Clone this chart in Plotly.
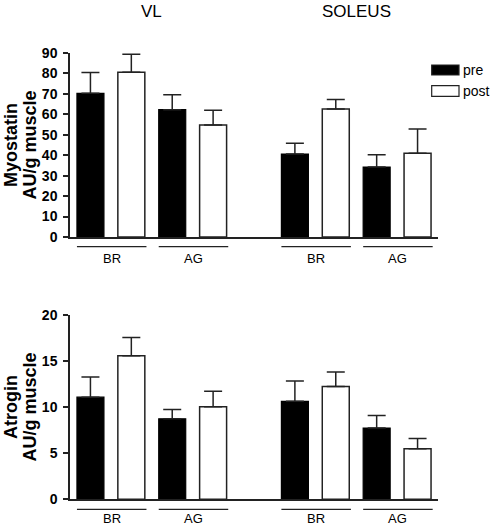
import plotly.graph_objects as go

# ---- data ----
muscles = ["VL", "SOLEUS"]
groups = ["BR", "AG"]
series = ["pre", "post"]

# order: VL-BR, VL-AG, SOLEUS-BR, SOLEUS-AG
myostatin_pre = [70.3, 62.3, 40.6, 34.2]
myostatin_pre_err = [10.2, 7.3, 5.2, 6.0]
myostatin_post = [80.6, 54.8, 62.6, 41.0]
myostatin_post_err = [8.8, 7.2, 4.6, 11.8]

atrogin_pre = [11.1, 8.75, 10.65, 7.75]
atrogin_pre_err = [2.2, 1.0, 2.2, 1.35]
atrogin_post = [15.6, 10.05, 12.25, 5.5]
atrogin_post_err = [2.0, 1.7, 1.6, 1.1]

myostatin_ticks = [0, 10, 20, 30, 40, 50, 60, 70, 80, 90]
atrogin_ticks = [0, 5, 10, 15, 20]

# ---- positions (slot indices) ----
pre_x, post_x, group_labels = [], [], []
for m in range(len(muscles)):
    for w in range(len(groups)):
        p = m * 5 + w * 2
        pre_x.append(p)
        post_x.append(p + 1)
        group_labels.append(groups[w])

BW = 0.66
LINE = "#222222"
FONT = "Liberation Sans, Arial, sans-serif"

fig = go.Figure()

def add_panel(pre, pre_err, post, post_err, xa, ya):
    fig.add_trace(go.Bar(
        x=pre_x, y=pre, width=BW, name="pre", showlegend=False,
        marker=dict(color="black", line=dict(color="black", width=1.2)),
        error_y=dict(type="data", symmetric=False, array=pre_err,
                     arrayminus=[0] * len(pre), color=LINE, thickness=1.5, width=9),
        xaxis=xa, yaxis=ya))
    fig.add_trace(go.Bar(
        x=post_x, y=post, width=BW, name="post", showlegend=False,
        marker=dict(color="white", line=dict(color=LINE, width=1.5)),
        error_y=dict(type="data", symmetric=False, array=post_err,
                     arrayminus=[0] * len(post), color=LINE, thickness=1.5, width=9),
        xaxis=xa, yaxis=ya))

add_panel(myostatin_pre, myostatin_pre_err, myostatin_post, myostatin_post_err, "x", "y")
add_panel(atrogin_pre, atrogin_pre_err, atrogin_post, atrogin_post_err, "x2", "y2")

xdom = [70 / 490, 438 / 490]
top_dom = [1 - 237 / 526, 1 - 53 / 526]
bot_dom = [1 - 499.3 / 526, 1 - 315.3 / 526]

xcommon = dict(range=[-0.5, 8.5], showgrid=False, zeroline=False, showticklabels=False,
               ticks="", showline=True, linecolor=LINE, linewidth=1.5, domain=xdom,
               fixedrange=True, automargin=False)
ycommon = dict(showgrid=False, zeroline=False, showline=True, linecolor=LINE, linewidth=1.5,
               ticks="outside", ticklen=5, tickwidth=1.5, tickcolor=LINE, automargin=False,
               fixedrange=True, ticklabelstandoff=3,
               tickfont=dict(family=FONT, size=14, color="black", weight="bold"))

fig.update_layout(
    width=490, height=526,
    margin=dict(l=0, r=0, t=0, b=0, pad=0, autoexpand=False),
    paper_bgcolor="white", plot_bgcolor="white",
    barmode="overlay",
    showlegend=False,
    font=dict(family=FONT, color="black"),
    xaxis=dict(**xcommon, anchor="y"),
    xaxis2=dict(**xcommon, anchor="y2"),
    yaxis=dict(**ycommon, range=[0, 90], tickvals=myostatin_ticks, domain=top_dom, anchor="x"),
    yaxis2=dict(**ycommon, range=[0, 20], tickvals=atrogin_ticks, domain=bot_dom, anchor="x2"),
)

shapes = []
annotations = []

# group underlines and labels
for xa, yline, ylab in [("x", 1 - 246.7 / 526, 1 - 258 / 526), ("x2", 1 - 509.3 / 526, 1 - 518 / 526)]:
    for i, lab in enumerate(group_labels):
        x0 = pre_x[i] - BW / 2
        x1 = post_x[i] + BW / 2 + 0.04
        shapes.append(dict(type="line", xref=xa, yref="paper", x0=x0, x1=x1, y0=yline, y1=yline,
                           line=dict(color=LINE, width=1.2)))
        annotations.append(dict(xref=xa, yref="paper", x=(x0 + x1) / 2, y=ylab, text=lab,
                                showarrow=False, xanchor="center", yanchor="middle",
                                font=dict(family=FONT, size=13, color="black")))

# muscle titles
for m, name in enumerate(muscles):
    cx = (pre_x[m * 2] + post_x[m * 2 + 1]) / 2
    annotations.append(dict(xref="x", yref="paper", x=cx, y=1 - 11 / 526, text=name,
                            showarrow=False, xanchor="center", yanchor="middle",
                            font=dict(family=FONT, size=17, color="black")))

# y titles (two rotated lines each)
for line1, yc in [("Myostatin", 145), ("Atrogin", 407)]:
    annotations.append(dict(xref="paper", yref="paper", x=11 / 490, y=1 - yc / 526,
                            text="<b>" + line1 + "</b>", textangle=-90,
                            showarrow=False, xanchor="center", yanchor="middle",
                            font=dict(family=FONT, size=18, color="black")))
    annotations.append(dict(xref="paper", yref="paper", x=29.5 / 490, y=1 - yc / 526,
                            text="<b>AU/g muscle</b>", textangle=-90,
                            showarrow=False, xanchor="center", yanchor="middle",
                            font=dict(family=FONT, size=18, color="black")))

# legend
for s, (y0, y1, fill) in zip(series, [(65, 75, "black"), (85.7, 96.3, "white")]):
    shapes.append(dict(type="rect", xref="paper", yref="paper",
                       x0=431.7 / 490, x1=459 / 490, y0=1 - y1 / 526, y1=1 - y0 / 526,
                       fillcolor=fill, line=dict(color=LINE, width=1.2)))
    annotations.append(dict(xref="paper", yref="paper", x=461 / 490, y=1 - (y0 + y1) / 2 / 526,
                            text=s, showarrow=False, xanchor="left", yanchor="middle",
                            font=dict(family=FONT, size=14, color="black")))

fig.update_layout(shapes=shapes, annotations=annotations)

fig.write_html("out.html", config={"displayModeBar": False, "responsive": False})

# remove default page margins so the 490x526 figure fits the window exactly
with open("out.html", "r", encoding="utf-8") as f:
    html = f.read()
html = html.replace("<head>", "<head><style>html,body{margin:0;padding:0;overflow:hidden;}</style>", 1)
with open("out.html", "w", encoding="utf-8") as f:
    f.write(html)
